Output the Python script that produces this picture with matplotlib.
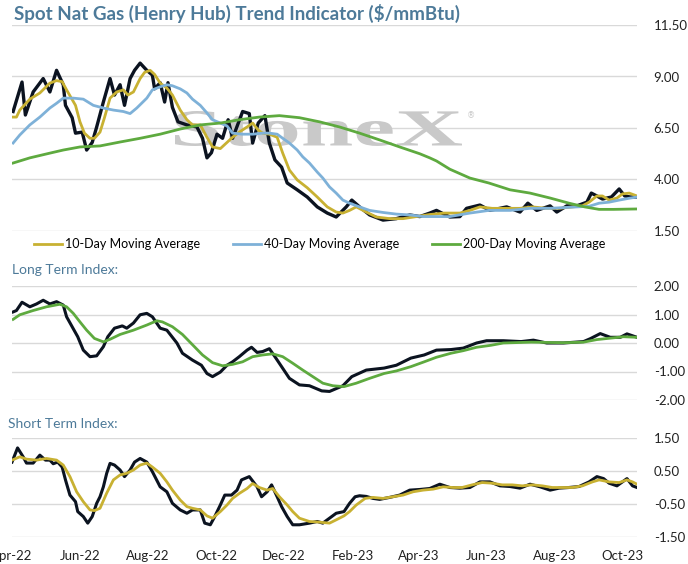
import pandas as pd
import matplotlib.pyplot as plt
import matplotlib.dates as mdates
from matplotlib.textpath import TextPath
from matplotlib.patches import PathPatch
from matplotlib.font_manager import FontProperties
from matplotlib.transforms import Affine2D

plt.rcParams['font.family'] = ['Lato', 'DejaVu Sans']

start = pd.Timestamp('2022-04-01')

# Spot price ($/mmBtu), x as days since 1-Apr-2022
spot_day = [1, 9, 12, 19, 28, 34, 40, 46, 48, 54, 57, 63, 67, 72, 76, 82, 88, 92, 97, 101,
            106, 110, 115, 121, 126, 128, 133, 137, 140, 144, 149, 157, 166, 171, 175, 179, 184, 189, 194, 198,
            207, 213, 216, 221, 227, 231, 236, 242, 247, 256, 265, 274, 283, 291, 300, 305, 312, 321, 333, 345,
            357, 366, 375, 381, 393, 402, 408, 420, 429, 444, 456, 463, 471, 483, 489, 498, 507, 516, 520, 525,
            530, 538, 545, 550, 555, 561]
spot_val = [7.3, 8.73, 7.13, 8.25, 8.9, 8.25, 9.3, 8.6, 7.6, 7.0, 6.25, 6.3, 5.43, 5.8, 6.55, 7.76, 8.9, 8.1, 8.6, 7.6,
            8.9, 9.3, 9.65, 9.3, 9.07, 8.4, 8.7, 7.76, 8.7, 7.5, 6.8, 6.65, 6.55, 6.0, 5.05, 5.3, 6.2, 6.0, 6.9, 6.0,
            7.3, 7.2, 5.77, 6.74, 7.1, 5.77, 4.95, 4.6, 3.83, 3.5, 3.15, 2.67, 2.37, 2.18, 2.67, 3.0, 2.67, 2.28, 2.03, 2.1,
            2.28, 2.2, 2.37, 2.5, 2.18, 2.2, 2.6, 2.76, 2.5, 2.67, 2.42, 2.85, 2.5, 2.72, 2.42, 2.72, 2.72, 2.9, 3.34, 3.2,
            3.05, 3.15, 3.54, 3.2, 3.15, 3.15]

ma10_day = [1, 4, 7, 16, 25, 34, 40, 45, 49, 57, 61, 65, 70, 74, 79, 83, 88, 94, 100, 104,
            109, 115, 119, 124, 128, 133, 139, 144, 151, 157, 162, 169, 175, 180, 187, 193, 198, 204, 211, 216,
            221, 225, 231, 238, 243, 249, 256, 265, 274, 283, 291, 297, 303, 309, 318, 327, 339, 351, 363, 375,
            388, 402, 411, 420, 431, 444, 456, 467, 480, 491, 503, 512, 518, 525, 530, 536, 543, 548, 554, 561]
ma10_val = [7.03, 7.03, 7.37, 7.9, 8.2, 8.68, 8.8, 8.75, 8.35, 7.6, 6.8, 6.25, 6.0, 6.0, 6.3, 7.0, 7.95, 8.25, 8.35, 8.1,
            8.25, 8.9, 9.2, 9.3, 9.1, 8.68, 8.44, 8.1, 7.37, 6.9, 6.65, 6.65, 6.05, 5.58, 5.5, 5.8, 6.05, 6.3, 6.55, 6.74,
            6.4, 6.25, 6.2, 6.05, 5.28, 4.46, 3.98, 3.6, 3.15, 2.67, 2.42, 2.37, 2.5, 2.67, 2.42, 2.18, 2.1, 2.1, 2.2, 2.3,
            2.37, 2.37, 2.5, 2.67, 2.6, 2.6, 2.6, 2.67, 2.6, 2.6, 2.67, 2.72, 2.9, 3.2, 3.2, 3.0, 3.1, 3.3, 3.34, 3.2]

ma40_day = [1, 7, 16, 25, 34, 40, 46, 55, 64, 73, 82, 91, 100, 106, 112, 121, 126, 133, 139, 144,
            151, 157, 162, 169, 175, 180, 187, 193, 198, 207, 216, 225, 231, 238, 243, 249, 256, 261, 267, 274,
            279, 285, 291, 297, 303, 312, 321, 333, 345, 357, 369, 381, 393, 411, 428, 447, 465, 483, 500, 518,
            527, 536, 545, 555, 561]
ma40_val = [5.77, 6.16, 6.65, 7.03, 7.47, 7.7, 7.95, 7.95, 7.9, 7.6, 7.47, 7.37, 7.3, 7.2, 7.47, 7.95, 8.35, 8.5, 8.6, 8.55,
            8.4, 8.2, 7.9, 7.6, 7.23, 6.9, 6.74, 6.6, 6.25, 6.2, 6.2, 6.25, 6.25, 6.2, 6.0, 5.77, 5.43, 5.1, 4.8, 4.36,
            4.07, 3.64, 3.34, 3.0, 2.85, 2.67, 2.5, 2.4, 2.32, 2.28, 2.2, 2.2, 2.2, 2.37, 2.5, 2.5, 2.6, 2.6, 2.65, 2.7,
            2.85, 2.9, 3.0, 3.1, 3.15]

ma200_day = [1, 16, 34, 46, 61, 79, 97, 115, 133, 151, 169, 187, 204, 222, 240, 258, 276, 294, 312, 330,
             348, 366, 375, 381, 393, 411, 428, 447, 465, 483, 500, 514, 527, 540, 561]
ma200_val = [4.8, 5.05, 5.28, 5.43, 5.58, 5.63, 5.82, 6.0, 6.2, 6.45, 6.65, 6.74, 6.9, 7.03, 7.1, 7.0, 6.8, 6.55, 6.25, 5.92,
             5.58, 5.25, 5.05, 4.9, 4.5, 4.07, 3.83, 3.5, 3.34, 3.1, 2.85, 2.67, 2.55, 2.55, 2.57]

# Long term index
lt_day = [1, 4, 9, 16, 22, 28, 34, 40, 46, 49, 54, 59, 64, 70, 76, 82, 86, 92, 99, 103,
          109, 115, 121, 126, 133, 139, 148, 153, 162, 170, 175, 180, 187, 193, 198, 204, 211, 215, 220, 225,
          231, 236, 242, 249, 258, 267, 278, 285, 297, 305, 318, 334, 345, 358, 370, 381, 394, 405, 417, 426,
          441, 457, 468, 480, 495, 513, 519, 528, 537, 546, 552, 561]
lt_val = [1.09, 1.14, 1.43, 1.27, 1.37, 1.5, 1.37, 1.45, 1.33, 0.92, 0.57, 0.22, -0.25, -0.48, -0.45, -0.13, 0.22, 0.52, 0.6, 0.52,
          0.7, 0.99, 1.04, 0.92, 0.52, 0.45, 0.0, -0.36, -0.6, -0.78, -1.07, -1.18, -1.02, -0.78, -0.66, -0.48, -0.25, -0.15, -0.33, -0.3,
          -0.2, -0.48, -0.83, -1.24, -1.47, -1.5, -1.68, -1.7, -1.5, -1.18, -0.95, -0.88, -0.78, -0.53, -0.42, -0.25, -0.23, -0.18, 0.0, 0.08,
          0.08, 0.05, 0.1, 0.0, 0.0, 0.05, 0.15, 0.33, 0.2, 0.2, 0.32, 0.2]
lt_avg_day = [1, 7, 19, 31, 43, 49, 55, 61, 67, 74, 82, 88, 97, 109, 121, 130, 135, 144, 153, 162,
              171, 180, 189, 198, 207, 216, 225, 234, 243, 252, 261, 270, 279, 288, 298, 309, 321, 334, 345, 358,
              370, 381, 394, 405, 417, 430, 441, 466, 495, 513, 525, 537, 549, 561]
lt_avg_val = [0.83, 0.99, 1.14, 1.27, 1.36, 1.27, 1.04, 0.74, 0.45, 0.16, 0.04, 0.13, 0.3, 0.45, 0.63, 0.78, 0.74, 0.57, 0.3, -0.06,
              -0.42, -0.69, -0.8, -0.75, -0.66, -0.48, -0.42, -0.38, -0.48, -0.71, -0.95, -1.18, -1.41, -1.5, -1.53, -1.41, -1.24, -1.07, -0.98, -0.83,
              -0.66, -0.5, -0.36, -0.27, -0.15, -0.08, 0.0, 0.03, 0.01, 0.03, 0.12, 0.17, 0.22, 0.2]

# Short term index
st_day = [0, 5, 10, 13, 19, 25, 30, 34, 37, 41, 45, 48, 52, 57, 59, 64, 68, 72, 76, 79,
          82, 85, 88, 92, 97, 101, 106, 110, 115, 121, 126, 133, 139, 144, 151, 157, 162, 169, 173, 178,
          182, 187, 191, 197, 202, 206, 213, 220, 224, 229, 233, 238, 242, 247, 252, 258, 267, 274, 279, 285,
          291, 298, 303, 308, 312, 318, 324, 330, 339, 348, 357, 366, 375, 384, 393, 402, 411, 420, 429, 438,
          447, 456, 465, 474, 483, 491, 500, 509, 518, 525, 531, 536, 543, 552, 557, 561]
st_val = [0.77, 1.2, 0.93, 0.74, 0.74, 0.98, 0.83, 0.83, 0.72, 0.77, 0.62, 0.23, -0.23, -0.43, -0.73, -0.88, -1.08, -0.88, -0.48, -0.28,
          0.02, 0.43, 0.73, 0.68, 0.53, 0.33, 0.53, 0.77, 0.88, 0.77, 0.48, 0.02, -0.13, -0.48, -0.68, -0.78, -0.68, -0.68, -1.08, -1.13,
          -0.88, -0.53, -0.23, -0.23, -0.08, 0.23, 0.33, 0.02, -0.28, -0.13, 0.08, -0.28, -0.58, -0.88, -1.13, -1.13, -1.08, -1.03, -1.08, -0.93,
          -0.78, -0.73, -0.48, -0.28, -0.25, -0.27, -0.33, -0.36, -0.3, -0.23, -0.08, -0.06, -0.03, 0.1, 0.0, -0.02, 0.0, 0.17, 0.17, 0.05,
          0.03, -0.02, 0.1, 0.02, -0.08, -0.02, 0.0, 0.03, 0.17, 0.33, 0.27, 0.13, 0.05, 0.27, 0.05, 0.0]
st_avg_day = [0, 7, 13, 22, 31, 40, 46, 52, 58, 64, 70, 74, 79, 85, 91, 97, 103, 109, 115, 121,
              126, 133, 139, 144, 151, 157, 162, 169, 175, 180, 187, 193, 198, 204, 211, 216, 222, 229, 234, 240,
              247, 252, 258, 267, 276, 285, 291, 298, 303, 309, 317, 324, 333, 342, 351, 360, 369, 378, 387, 396,
              404, 413, 422, 431, 440, 449, 458, 467, 476, 485, 494, 503, 512, 521, 527, 536, 545, 552, 557, 561]
st_avg_val = [0.83, 0.93, 0.86, 0.83, 0.88, 0.83, 0.68, 0.33, -0.13, -0.43, -0.68, -0.7, -0.63, -0.17, 0.23, 0.38, 0.43, 0.53, 0.68, 0.74,
              0.62, 0.43, 0.17, -0.08, -0.38, -0.58, -0.63, -0.68, -0.86, -0.93, -0.73, -0.53, -0.33, -0.18, -0.03, 0.12, 0.0, -0.08, -0.03, -0.28,
              -0.53, -0.73, -0.93, -1.03, -1.05, -1.08, -0.98, -0.86, -0.73, -0.53, -0.33, -0.3, -0.33, -0.28, -0.23, -0.13, -0.08, -0.05, 0.02, 0.0,
              0.0, 0.08, 0.15, 0.13, 0.08, 0.08, 0.05, 0.08, 0.05, 0.0, 0.0, 0.0, 0.05, 0.17, 0.23, 0.17, 0.15, 0.23, 0.17, 0.1]


def to_dates(days):
    return start + pd.to_timedelta(days, unit='D')


BLACK = '#0b1320'
GOLD = '#c8b132'
BLUE = '#7eb1d8'
GREEN = '#5eaa3f'
GRID = '#d9d9d9'
TITLE = '#4d7a99'

fig = plt.figure(figsize=(6.88, 5.64), dpi=100)
x0, x1 = start, start + pd.Timedelta(days=561)
left, width = 12 / 688, 625 / 688

ax1 = fig.add_axes([left, 1 - 231 / 564, width, 206 / 564])
ax2 = fig.add_axes([left, 1 - 400 / 564, width, 114 / 564])
ax3 = fig.add_axes([left, 1 - 537 / 564, width, 99 / 564])

for ax in (ax1, ax2, ax3):
    ax.set_xlim(x0, x1)
    for s in ax.spines.values():
        s.set_visible(False)
    ax.yaxis.tick_right()
    ax.grid(axis='y', color=GRID, lw=1)
    ax.set_axisbelow(True)
    ax.tick_params(axis='y', length=0, pad=12, labelsize=9.5, labelcolor='#222222')
    ax.xaxis.set_major_locator(mdates.MonthLocator(bymonth=[2, 4, 6, 8, 10, 12]))
    ax.xaxis.set_major_formatter(mdates.DateFormatter('%b-%y'))
    ax.tick_params(axis='x', length=0, pad=9, labelsize=9.5, labelcolor='#222222')
for ax in (ax1, ax2):
    ax.tick_params(axis='x', labelbottom=False)

# Top panel
ax1.set_ylim(1.5, 11.5)
ax1.set_yticks([1.5, 4.0, 6.5, 9.0, 11.5])
ax1.yaxis.set_major_formatter(plt.FormatStrFormatter('%.2f'))
ax1.plot(to_dates(spot_day), spot_val, color=BLACK, lw=2.4, zorder=3)
ax1.plot(to_dates(ma10_day), ma10_val, color=GOLD, lw=2, label='10-Day Moving Average', zorder=4)
ax1.plot(to_dates(ma40_day), ma40_val, color=BLUE, lw=2, label='40-Day Moving Average', zorder=4)
ax1.plot(to_dates(ma200_day), ma200_val, color=GREEN, lw=2, label='200-Day Moving Average', zorder=4)

# watermark, stretched wide
tp = TextPath((0, 0), 'StoneX', size=1,
              prop=FontProperties(family='Liberation Serif', weight='bold'))
bb = tp.get_extents()
sx, sy = 2.87 / bb.width, 0.35 / bb.height
tr = Affine2D().translate(-bb.x0, -bb.y0).scale(sx, sy).translate(1.75, 4.18) + fig.dpi_scale_trans
ax1.add_patch(PathPatch(tp, transform=tr, color='#c9c9c9', lw=0, zorder=1, clip_on=False))
fig.text(471 / 688, 1 - 116 / 564, '®', fontsize=6, color='#c8c8c8', ha='center', va='center',
         family='DejaVu Sans')

fig.legend(loc='center', bbox_to_anchor=(0.465, 1 - 244 / 564), ncol=3, frameon=False,
           fontsize=9, handlelength=2.2, handletextpad=0.3, columnspacing=2.6)

fig.text(14 / 688, 1 - 13 / 564, 'Spot Nat Gas (Henry Hub) Trend Indicator ($/mmBtu)',
         fontsize=13.5, fontweight='bold', color=TITLE, va='center', ha='left')

# Long term
ax2.set_ylim(-2, 2)
ax2.set_yticks([-2, -1, 0, 1, 2])
ax2.yaxis.set_major_formatter(plt.FormatStrFormatter('%.2f'))
ax2.plot(to_dates(lt_day), lt_val, color=BLACK, lw=2.2, zorder=3)
ax2.plot(to_dates(lt_avg_day), lt_avg_val, color=GREEN, lw=2, zorder=4)
fig.text(12 / 688, 1 - 270 / 564, 'Long Term Index:', fontsize=10, color=TITLE, va='center', ha='left')

# Short term
ax3.set_ylim(-1.5, 1.5)
ax3.set_yticks([-1.5, -0.5, 0.5, 1.5])
ax3.yaxis.set_major_formatter(plt.FormatStrFormatter('%.2f'))
ax3.plot(to_dates(st_day), st_val, color=BLACK, lw=2.2, zorder=3)
ax3.plot(to_dates(st_avg_day), st_avg_val, color=GOLD, lw=2, zorder=4)
fig.text(8 / 688, 1 - 424 / 564, 'Short Term Index:', fontsize=10, color=TITLE, va='center', ha='left')

fig.savefig('out.png', dpi=100)
